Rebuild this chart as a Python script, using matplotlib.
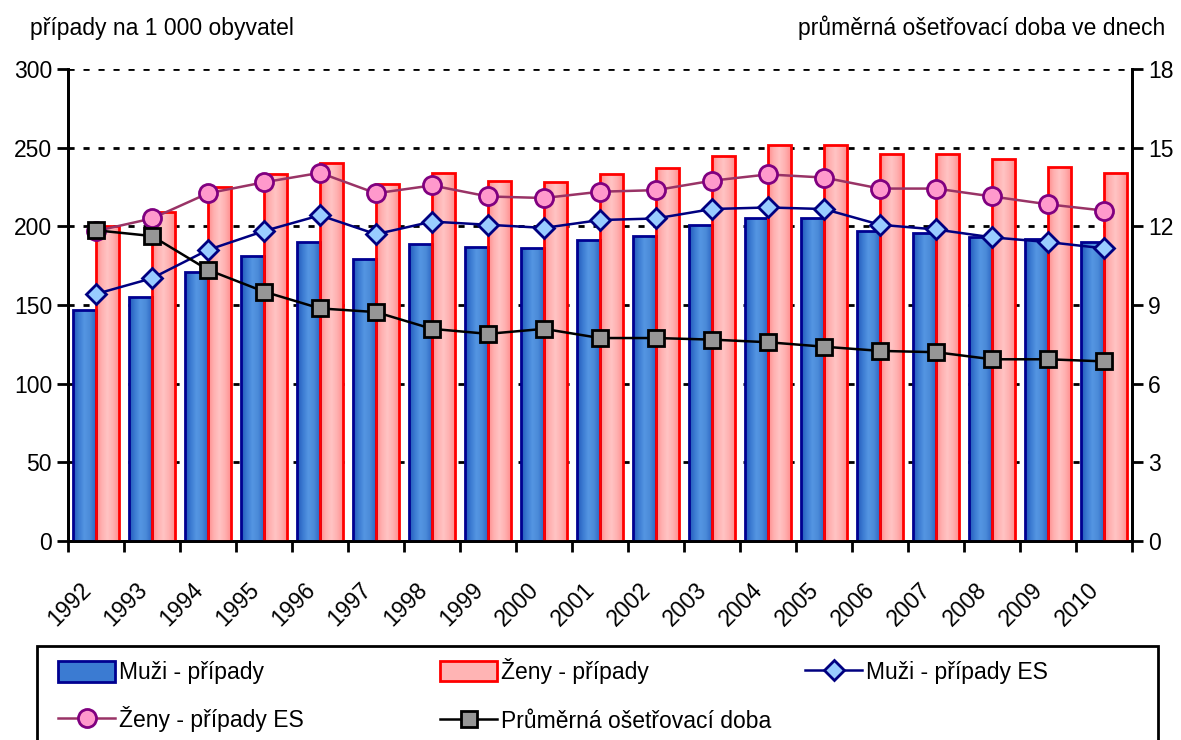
import numpy as np
import matplotlib
matplotlib.use('Agg')
from matplotlib import pyplot as plt
from matplotlib.colors import LinearSegmentedColormap
from matplotlib.lines import Line2D
from matplotlib.patches import Patch, Rectangle

plt.rcParams['font.family'] = ['Liberation Sans', 'DejaVu Sans']

years = ['1992', '1993', '1994', '1995', '1996', '1997', '1998', '1999', '2000', '2001',
         '2002', '2003', '2004', '2005', '2006', '2007', '2008', '2009', '2010']
muzi_pripady = [147, 155, 171, 181, 190, 179, 189, 187, 186, 191,
                194, 201, 205, 205, 197, 196, 193, 192, 190]
zeny_pripady = [200, 209, 225, 233, 240, 227, 234, 229, 228, 233,
                237, 245, 252, 252, 246, 246, 243, 238, 234]
muzi_es = [157, 167, 185, 197, 207, 195, 203, 201, 199, 204,
           205, 211, 212, 211, 201, 198, 193, 190, 186]
zeny_es = [197, 205, 221, 228, 234, 221, 226, 219, 218, 222,
           223, 229, 233, 231, 224, 224, 219, 214, 210]
doba = [11.85, 11.63, 10.34, 9.51, 8.87, 8.73, 8.09, 7.90, 8.09, 7.74,
        7.74, 7.68, 7.58, 7.41, 7.25, 7.20, 6.93, 6.93, 6.85]

x = np.arange(len(years))
w = 0.41
fs = 16.5

fig = plt.figure(figsize=(11.81, 7.40), dpi=100)
ax = fig.add_axes([68/1181, 1-541/740, (1132-68)/1181, (541-69)/740])
ax2 = ax.twinx()

blue_cm = LinearSegmentedColormap.from_list('b', ['#2358b8', '#3b7bd2', '#5596e2', '#4a8ad8', '#2f68c4'])
red_cm = LinearSegmentedColormap.from_list('r', ['#ff8c8c', '#ffb0b0', '#ffc4c4', '#ffb0b0', '#ff9090'])
grad = np.linspace(0, 1, 64).reshape(1, -1)


def gradient_bars(pos, vals, cmap, edge):
    bars = ax.bar(pos, vals, w, facecolor='none', edgecolor=edge, linewidth=2, zorder=3)
    for b in bars:
        x0, y0 = b.get_x(), b.get_y()
        im = ax.imshow(grad, cmap=cmap, aspect='auto', zorder=2,
                       extent=(x0, x0 + b.get_width(), y0, y0 + b.get_height()))
        im.set_clip_path(b)
    return bars


gradient_bars(x - w/2, muzi_pripady, blue_cm, '#000090')
gradient_bars(x + w/2, zeny_pripady, red_cm, '#ff0000')

st_mes = dict(color='#000080', lw=1.8, marker='D', ms=10, mfc='#99ccff', mec='#000080', mew=2)
st_zes = dict(color='#993366', lw=1.8, marker='o', ms=13, mfc='#ff99cc', mec='#800080', mew=2)
st_d = dict(color='black', lw=1.8, marker='s', ms=11, mfc='#969696', mec='black', mew=2)

ax.plot(x, muzi_es, zorder=5, **st_mes)
ax.plot(x, zeny_es, zorder=5, **st_zes)
ax2.plot(x, doba, zorder=5, **st_d)

ax.set_xlim(-0.5, len(years) - 0.5)
ax.set_ylim(0, 300)
ax2.set_ylim(0, 18)
ax.set_yticks(range(0, 301, 50))
ax2.set_yticks(range(0, 19, 3))
for yv in range(50, 301, 50):
    ax.axhline(yv, color='black', lw=2, ls=(0, (2.2, 3.2)), zorder=1)

# labels sit a bit left of the category centre, as in the original
ax.set_xticks(x - 0.3)
ax.set_xticklabels(years, rotation=45, ha='right', rotation_mode='anchor', fontsize=fs)
ax.set_xticks(np.arange(-0.5, len(years)), minor=True)
ax.tick_params(axis='x', which='major', length=0, pad=27)
ax.tick_params(axis='x', which='minor', length=8, width=2, direction='out')
ax.tick_params(axis='y', labelsize=fs, length=8, width=2, direction='out')
ax2.tick_params(axis='y', labelsize=fs, length=8, width=2, direction='out')

for a in (ax, ax2):
    a.spines['top'].set_visible(False)
    for s in ('left', 'right', 'bottom'):
        a.spines[s].set_linewidth(2)

fig.text(30/1181, 1-28/740, 'případy na 1 000 obyvatel', fontsize=fs, va='center', ha='left')
fig.text(1165/1181, 1-28/740, 'průměrná ošetřovací doba ve dnech', fontsize=fs, va='center', ha='right')

# legend: frame + three columns
fig.patches.append(Rectangle((37/1181, -0.05), (1158-37)/1181, 0.05 + 1-646/740,
                             transform=fig.transFigure, facecolor='white',
                             edgecolor='black', lw=2, zorder=0))

h_mp = Patch(facecolor='#3b7bd2', edgecolor='#000090', lw=2)
h_zp = Patch(facecolor='#ffb4b4', edgecolor='#ff0000', lw=2)
h_mes = Line2D([], [], **st_mes)
h_zes = Line2D([], [], **st_zes)
h_d = Line2D([], [], **st_d)

columns = [
    (58, 661, 0.95, [h_mp, h_zes], ['Muži - případy', 'Ženy - případy ES']),
    (440, 658, 1.15, [h_zp, h_d], ['Ženy - případy', 'Průměrná ošetřovací doba']),
    (805, 661, 0.95, [h_mes], ['Muži - případy ES']),
]
for xpx, ypx, sp, hs, ls in columns:
    fig.legend(hs, ls, loc='upper left', bbox_to_anchor=(xpx/1181, 1-ypx/740),
               fontsize=fs, frameon=False, handlelength=2.5, handleheight=1.0,
               handletextpad=0.15, borderpad=0, borderaxespad=0, labelspacing=sp)

fig.savefig('out.png', dpi=100)
